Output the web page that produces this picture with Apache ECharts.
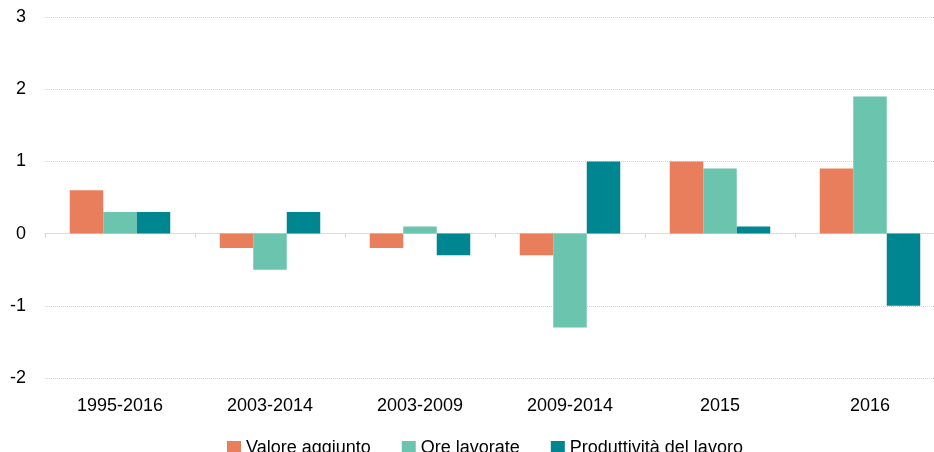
<!DOCTYPE html>
<html>
<head>
<meta charset="utf-8">
<script src="https://cdn.jsdelivr.net/npm/echarts@6/dist/echarts.min.js"></script>
<style>
  html, body { margin: 0; padding: 0; background: #fff; }
  #chart { width: 934px; height: 452px; }
</style>
</head>
<body>
<div id="chart"></div>
<script>
  // periodi
  var categories = ['1995-2016', '2003-2014', '2003-2009', '2009-2014', '2015', '2016'];
  var seriesNames = ['Valore aggiunto', 'Ore lavorate', 'Produttività del lavoro'];
  var valoreAggiunto = [0.6, -0.2, -0.2, -0.3, 1.0, 0.9];
  var oreLavorate = [0.3, -0.5, 0.1, -1.3, 0.9, 1.9];
  var produttivita = [0.3, 0.3, -0.3, 1.0, 0.1, -1.0];
  var colors = ['#e97e5d', '#6bc4ae', '#008690'];

  var font = 'Liberation Sans';
  var gridColor = '#d4d4d4';

  function bar(name, data, color) {
    return {
      name: name,
      type: 'bar',
      xAxisIndex: 0,
      data: data,
      barGap: 0,
      barCategoryGap: '33%',
      itemStyle: {color: color},
      emphasis: {disabled: true}
    };
  }

  var option = {
    animation: false,
    textStyle: {fontFamily: font},
    grid: {left: 45, top: 17, bottom: 74, width: 900, containLabel: false, outerBoundsMode: 'none'},
    legend: {
      bottom: -10,
      left: 222,
      icon: 'rect',
      itemWidth: 14,
      itemHeight: 14,
      itemGap: 31,
      textStyle: {fontFamily: font, fontSize: 18, color: '#000'},
      data: seriesNames
    },
    xAxis: [
      {
        // linea dello zero con tacche
        type: 'category',
        data: categories,
        position: 'bottom',
        axisLine: {onZero: true, lineStyle: {color: gridColor, type: 'dotted', width: 1}},
        axisTick: {show: true, length: 4, lineStyle: {color: gridColor}},
        axisLabel: {show: false}
      },
      {
        // etichette in basso
        type: 'category',
        data: categories,
        position: 'bottom',
        axisLine: {show: false, onZero: false},
        axisTick: {show: false},
        axisLabel: {margin: 19, fontFamily: font, fontSize: 18, color: '#000'}
      }
    ],
    yAxis: {
      type: 'value',
      min: -2,
      max: 3,
      interval: 1,
      axisLine: {show: false},
      axisTick: {show: false},
      axisLabel: {margin: 19, fontFamily: font, fontSize: 18, color: '#000'},
      splitLine: {lineStyle: {color: gridColor, type: 'dotted', width: 1}}
    },
    series: [
      bar(seriesNames[0], valoreAggiunto, colors[0]),
      bar(seriesNames[1], oreLavorate, colors[1]),
      bar(seriesNames[2], produttivita, colors[2])
    ]
  };

  echarts.init(document.getElementById('chart')).setOption(option);
</script>
</body>
</html>
